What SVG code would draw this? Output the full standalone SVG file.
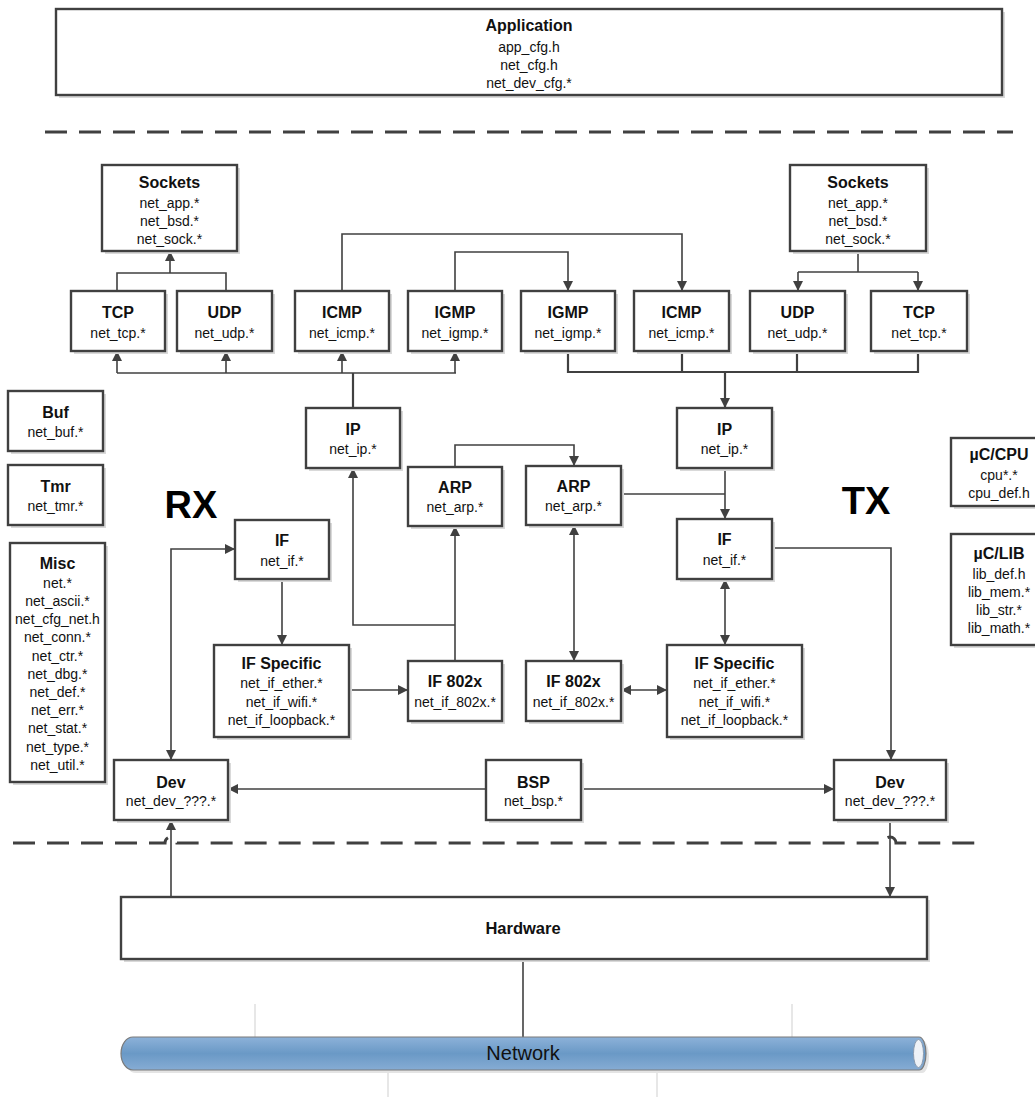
<svg xmlns="http://www.w3.org/2000/svg" width="1035" height="1097" viewBox="0 0 1035 1097">
  <defs>
    <style>
      .box { fill: #ffffff; stroke: #404040; stroke-width: 2.4; }
      .sh { fill: #d9d9d9; }
      .t { font-family: "Liberation Sans", Arial, sans-serif; font-weight: bold; font-size: 16px; text-anchor: middle; fill: #111; }
      .s { font-family: "Liberation Sans", Arial, sans-serif; font-size: 14px; text-anchor: middle; fill: #111; }
      .big { font-family: "Liberation Sans", Arial, sans-serif; font-weight: bold; font-size: 38px; text-anchor: middle; fill: #000; }
      .c { fill: none; stroke: #404040; stroke-width: 1.6; }
      .cw { fill: none; stroke: #404040; stroke-width: 2.2; }
      .dash { fill: none; stroke: #404040; stroke-width: 3; stroke-dasharray: 22 12; }
      .thin { fill: none; stroke: #cfcfcf; stroke-width: 1; }
    </style>
    <marker id="ah" viewBox="0 0 10 10" refX="10" refY="5" markerWidth="10" markerHeight="10" markerUnits="userSpaceOnUse" orient="auto-start-reverse">
      <path d="M0,0 L10,5 L0,10 Z" fill="#404040"/>
    </marker>
    <linearGradient id="pipe" x1="0" y1="0" x2="0" y2="1">
      <stop offset="0" stop-color="#8db2d9"/>
      <stop offset="0.5" stop-color="#6a99c6"/>
      <stop offset="1" stop-color="#86acd4"/>
    </linearGradient>
  </defs>

  <!-- layer separators -->
  <g id="separators">
    <path class="dash" d="M45,132 H1013"/>
    <path class="dash" d="M13,843 H165 A6,6 0 0 1 177,843 H884 A6,6 0 0 1 896,843 H976"/>
  </g>

  <!-- network drop lines -->
  <g id="drops">
    <path class="thin" d="M255,1004 V1037 M792,1004 V1037 M388,1070 V1097 M657,1070 V1097"/>
  </g>

  <!-- connectors -->
  <g id="connectors">
    <!-- RX: transport up to sockets -->
    <path class="c" d="M117,291 V273 H226 V291"/>
    <path class="c" d="M170,273 V251" marker-end="url(#ah)"/>
    <!-- RX: IP fan-out bus -->
    <path class="cw" d="M353,408 V373"/>
    <path class="c" d="M117,373 H456"/>
    <path class="c" d="M117,373 V351" marker-end="url(#ah)"/>
    <path class="c" d="M226,373 V351" marker-end="url(#ah)"/>
    <path class="c" d="M342,373 V351" marker-end="url(#ah)"/>
    <path class="c" d="M455,373 V351" marker-end="url(#ah)"/>
    <!-- ICMP / IGMP replies crossing to TX -->
    <path class="c" d="M342,291 V234 H682 V291" marker-end="url(#ah)"/>
    <path class="c" d="M455,291 V252 H568 V291" marker-end="url(#ah)"/>
    <!-- RX: device / interface chain -->
    <path class="c" d="M171,760 V549 H235" marker-start="url(#ah)" marker-end="url(#ah)"/>
    <path class="c" d="M282,579 V645" marker-end="url(#ah)"/>
    <path class="c" d="M349,690 H408" marker-end="url(#ah)"/>
    <path class="c" d="M455,661 V526" marker-end="url(#ah)"/>
    <path class="c" d="M455,625 H353 V468" marker-end="url(#ah)"/>
    <path class="c" d="M455,467 V445 H574 V466" marker-end="url(#ah)"/>
    <path class="c" d="M171,897 V820" marker-end="url(#ah)"/>
    <!-- BSP to both devices -->
    <path class="c" d="M486,789 H228" marker-end="url(#ah)"/>
    <path class="c" d="M581,789 H834" marker-end="url(#ah)"/>
    <!-- TX: sockets down to transport -->
    <path class="c" d="M858,251 V272"/>
    <path class="c" d="M798,272 H918"/>
    <path class="c" d="M798,272 V291" marker-end="url(#ah)"/>
    <path class="c" d="M918,272 V291" marker-end="url(#ah)"/>
    <!-- TX: protocols merge into IP -->
    <path class="cw" d="M568,351 V372 H918 V351"/>
    <path class="cw" d="M682,351 V372 M797,351 V372"/>
    <path class="cw" d="M725,372 V408" marker-end="url(#ah)"/>
    <!-- TX: IP / ARP to interface -->
    <path class="c" d="M725,468 V519" marker-end="url(#ah)"/>
    <path class="c" d="M621,494 H725"/>
    <path class="c" d="M772,548 H891 V760" marker-end="url(#ah)"/>
    <path class="c" d="M725,579 V645" marker-start="url(#ah)" marker-end="url(#ah)"/>
    <path class="c" d="M574,525 V661" marker-start="url(#ah)" marker-end="url(#ah)"/>
    <path class="c" d="M621,690 H667" marker-start="url(#ah)" marker-end="url(#ah)"/>
    <path class="c" d="M890,820 V897" marker-end="url(#ah)"/>
    <!-- hardware to network -->
    <path class="c" d="M523,959 V1037"/>
  </g>

  <g id="application">
    <rect class="sh" x="59" y="12" width="946" height="86"/>
    <rect class="box" x="56" y="9" width="946" height="86"/>
    <text class="t" x="529" y="31">Application</text>
    <text class="s" x="529" y="52">app_cfg.h</text>
    <text class="s" x="529" y="70">net_cfg.h</text>
    <text class="s" x="529" y="88">net_dev_cfg.*</text>
  </g>

  <g id="rx-sockets">
    <rect class="sh" x="105" y="168" width="135" height="86"/>
    <rect class="box" x="102" y="165" width="135" height="86"/>
    <text class="t" x="169.5" y="188">Sockets</text>
    <text class="s" x="169.5" y="208">net_app.*</text>
    <text class="s" x="169.5" y="226">net_bsd.*</text>
    <text class="s" x="169.5" y="244">net_sock.*</text>
  </g>
  <g id="tx-sockets">
    <rect class="sh" x="793" y="168" width="136" height="86"/>
    <rect class="box" x="790" y="165" width="136" height="86"/>
    <text class="t" x="858" y="188">Sockets</text>
    <text class="s" x="858" y="208">net_app.*</text>
    <text class="s" x="858" y="226">net_bsd.*</text>
    <text class="s" x="858" y="244">net_sock.*</text>
  </g>

  <g id="rx-tcp">
    <rect class="sh" x="74" y="294" width="94" height="60"/>
    <rect class="box" x="71" y="291" width="94" height="60"/>
    <text class="t" x="118" y="318">TCP</text>
    <text class="s" x="118" y="338">net_tcp.*</text>
  </g>
  <g id="rx-udp">
    <rect class="sh" x="180" y="294" width="95" height="60"/>
    <rect class="box" x="177" y="291" width="95" height="60"/>
    <text class="t" x="224.5" y="318">UDP</text>
    <text class="s" x="224.5" y="338">net_udp.*</text>
  </g>
  <g id="rx-icmp">
    <rect class="sh" x="298" y="294" width="94" height="60"/>
    <rect class="box" x="295" y="291" width="94" height="60"/>
    <text class="t" x="342" y="318">ICMP</text>
    <text class="s" x="342" y="338">net_icmp.*</text>
  </g>
  <g id="rx-igmp">
    <rect class="sh" x="411" y="294" width="94" height="60"/>
    <rect class="box" x="408" y="291" width="94" height="60"/>
    <text class="t" x="455" y="318">IGMP</text>
    <text class="s" x="455" y="338">net_igmp.*</text>
  </g>
  <g id="tx-igmp">
    <rect class="sh" x="524" y="294" width="94" height="60"/>
    <rect class="box" x="521" y="291" width="94" height="60"/>
    <text class="t" x="568" y="318">IGMP</text>
    <text class="s" x="568" y="338">net_igmp.*</text>
  </g>
  <g id="tx-icmp">
    <rect class="sh" x="637" y="294" width="95" height="60"/>
    <rect class="box" x="634" y="291" width="95" height="60"/>
    <text class="t" x="681.5" y="318">ICMP</text>
    <text class="s" x="681.5" y="338">net_icmp.*</text>
  </g>
  <g id="tx-udp">
    <rect class="sh" x="753" y="294" width="95" height="60"/>
    <rect class="box" x="750" y="291" width="95" height="60"/>
    <text class="t" x="797.5" y="318">UDP</text>
    <text class="s" x="797.5" y="338">net_udp.*</text>
  </g>
  <g id="tx-tcp">
    <rect class="sh" x="874" y="294" width="96" height="60"/>
    <rect class="box" x="871" y="291" width="96" height="60"/>
    <text class="t" x="919" y="318">TCP</text>
    <text class="s" x="919" y="338">net_tcp.*</text>
  </g>

  <g id="buf">
    <rect class="sh" x="11" y="394" width="95" height="60"/>
    <rect class="box" x="8" y="391" width="95" height="60"/>
    <text class="t" x="55.5" y="418">Buf</text>
    <text class="s" x="55.5" y="437">net_buf.*</text>
  </g>
  <g id="tmr">
    <rect class="sh" x="11" y="468" width="95" height="60"/>
    <rect class="box" x="8" y="465" width="95" height="60"/>
    <text class="t" x="55.5" y="492">Tmr</text>
    <text class="s" x="55.5" y="511">net_tmr.*</text>
  </g>
  <g id="misc">
    <rect class="sh" x="13" y="546" width="95" height="239"/>
    <rect class="box" x="10" y="543" width="95" height="239"/>
    <text class="t" x="57.5" y="569">Misc</text>
    <text class="s" x="57.5" y="588">net.*</text>
    <text class="s" x="57.5" y="606">net_ascii.*</text>
    <text class="s" x="57.5" y="624">net_cfg_net.h</text>
    <text class="s" x="57.5" y="642">net_conn.*</text>
    <text class="s" x="57.5" y="661">net_ctr.*</text>
    <text class="s" x="57.5" y="679">net_dbg.*</text>
    <text class="s" x="57.5" y="697">net_def.*</text>
    <text class="s" x="57.5" y="715">net_err.*</text>
    <text class="s" x="57.5" y="733">net_stat.*</text>
    <text class="s" x="57.5" y="752">net_type.*</text>
    <text class="s" x="57.5" y="770">net_util.*</text>
  </g>

  <text class="big" x="191" y="518">RX</text>
  <text class="big" x="866" y="514">TX</text>

  <g id="rx-ip">
    <rect class="sh" x="309" y="411" width="94" height="60"/>
    <rect class="box" x="306" y="408" width="94" height="60"/>
    <text class="t" x="353" y="435">IP</text>
    <text class="s" x="353" y="454">net_ip.*</text>
  </g>
  <g id="tx-ip">
    <rect class="sh" x="680" y="411" width="95" height="60"/>
    <rect class="box" x="677" y="408" width="95" height="60"/>
    <text class="t" x="724.5" y="435">IP</text>
    <text class="s" x="724.5" y="454">net_ip.*</text>
  </g>
  <g id="rx-arp">
    <rect class="sh" x="411" y="470" width="94" height="59"/>
    <rect class="box" x="408" y="467" width="94" height="59"/>
    <text class="t" x="455" y="493">ARP</text>
    <text class="s" x="455" y="512">net_arp.*</text>
  </g>
  <g id="tx-arp">
    <rect class="sh" x="529" y="469" width="95" height="59"/>
    <rect class="box" x="526" y="466" width="95" height="59"/>
    <text class="t" x="573.5" y="492">ARP</text>
    <text class="s" x="573.5" y="511">net_arp.*</text>
  </g>
  <g id="rx-if">
    <rect class="sh" x="238" y="523" width="94" height="59"/>
    <rect class="box" x="235" y="520" width="94" height="59"/>
    <text class="t" x="282" y="546">IF</text>
    <text class="s" x="282" y="566">net_if.*</text>
  </g>
  <g id="tx-if">
    <rect class="sh" x="680" y="522" width="95" height="60"/>
    <rect class="box" x="677" y="519" width="95" height="60"/>
    <text class="t" x="724.5" y="545">IF</text>
    <text class="s" x="724.5" y="565">net_if.*</text>
  </g>
  <g id="rx-if-specific">
    <rect class="sh" x="217" y="648" width="135" height="92"/>
    <rect class="box" x="214" y="645" width="135" height="92"/>
    <text class="t" x="281.5" y="669">IF Specific</text>
    <text class="s" x="281.5" y="688">net_if_ether.*</text>
    <text class="s" x="281.5" y="707">net_if_wifi.*</text>
    <text class="s" x="281.5" y="725">net_if_loopback.*</text>
  </g>
  <g id="tx-if-specific">
    <rect class="sh" x="670" y="648" width="135" height="92"/>
    <rect class="box" x="667" y="645" width="135" height="92"/>
    <text class="t" x="734.5" y="669">IF Specific</text>
    <text class="s" x="734.5" y="688">net_if_ether.*</text>
    <text class="s" x="734.5" y="707">net_if_wifi.*</text>
    <text class="s" x="734.5" y="725">net_if_loopback.*</text>
  </g>
  <g id="rx-if-802x">
    <rect class="sh" x="411" y="664" width="94" height="60"/>
    <rect class="box" x="408" y="661" width="94" height="60"/>
    <text class="t" x="455" y="687">IF 802x</text>
    <text class="s" x="455" y="707">net_if_802x.*</text>
  </g>
  <g id="tx-if-802x">
    <rect class="sh" x="529" y="664" width="95" height="60"/>
    <rect class="box" x="526" y="661" width="95" height="60"/>
    <text class="t" x="573.5" y="687">IF 802x</text>
    <text class="s" x="573.5" y="707">net_if_802x.*</text>
  </g>

  <g id="rx-dev">
    <rect class="sh" x="117" y="763" width="114" height="60"/>
    <rect class="box" x="114" y="760" width="114" height="60"/>
    <text class="t" x="171" y="788">Dev</text>
    <text class="s" x="171" y="806">net_dev_???.*</text>
  </g>
  <g id="bsp">
    <rect class="sh" x="489" y="763" width="95" height="60"/>
    <rect class="box" x="486" y="760" width="95" height="60"/>
    <text class="t" x="533.5" y="788">BSP</text>
    <text class="s" x="533.5" y="806">net_bsp.*</text>
  </g>
  <g id="tx-dev">
    <rect class="sh" x="837" y="763" width="112" height="60"/>
    <rect class="box" x="834" y="760" width="112" height="60"/>
    <text class="t" x="890" y="788">Dev</text>
    <text class="s" x="890" y="806">net_dev_???.*</text>
  </g>

  <g id="uc-cpu">
    <rect class="sh" x="954" y="441" width="96" height="68"/>
    <rect class="box" x="951" y="438" width="96" height="68"/>
    <text class="t" x="999" y="460">µC/CPU</text>
    <text class="s" x="999" y="480">cpu*.*</text>
    <text class="s" x="999" y="498">cpu_def.h</text>
  </g>
  <g id="uc-lib">
    <rect class="sh" x="954" y="537" width="96" height="111"/>
    <rect class="box" x="951" y="534" width="96" height="111"/>
    <text class="t" x="999" y="559">µC/LIB</text>
    <text class="s" x="999" y="579">lib_def.h</text>
    <text class="s" x="999" y="597">lib_mem.*</text>
    <text class="s" x="999" y="615">lib_str.*</text>
    <text class="s" x="999" y="633">lib_math.*</text>
  </g>

  <g id="hardware">
    <rect class="sh" x="124" y="900" width="806" height="62"/>
    <rect class="box" x="121" y="897" width="806" height="62"/>
    <text class="t" x="523" y="934" style="font-size:16.5px">Hardware</text>
  </g>

  <g id="network">
    <path d="M136,1040 H922 A7,16.5 0 0 1 922,1073 H136 A12,16.5 0 0 1 136,1040 Z" fill="#e4e4e4"/>
    <path d="M133,1037 H919 A7,16.5 0 0 1 919,1070 H133 A12,16.5 0 0 1 133,1037 Z" fill="url(#pipe)" stroke="#7a7a7a" stroke-width="1.2"/>
    <ellipse cx="918.5" cy="1053.5" rx="5" ry="14" fill="#eef2f7" stroke="#8a9bb0" stroke-width="1"/>
    <text x="523" y="1060" text-anchor="middle" font-family="Liberation Sans, Arial, sans-serif" font-size="20" fill="#111">Network</text>
  </g>
</svg>
